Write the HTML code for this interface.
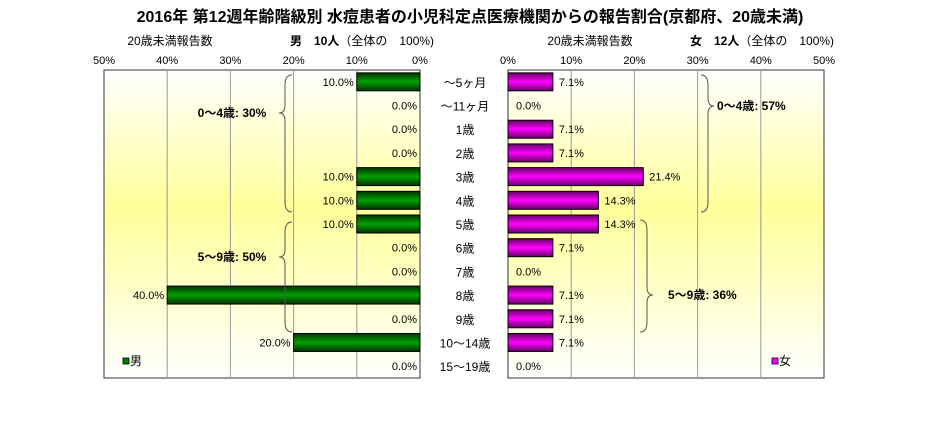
<!DOCTYPE html>
<html><head><meta charset="utf-8"><style>
body{margin:0;background:#fff;}
svg text{font-family:"Liberation Sans","Noto Sans CJK JP",sans-serif;}
</style></head><body>
<svg width="944" height="417" xmlns="http://www.w3.org/2000/svg">
<defs>
<linearGradient id="bg" x1="0" y1="0" x2="0" y2="1">
<stop offset="0" stop-color="#ffffff"/><stop offset="0.45" stop-color="#ffff9a"/><stop offset="1" stop-color="#ffffff"/>
</linearGradient>
<linearGradient id="gm" x1="0" y1="0" x2="0" y2="1">
<stop offset="0" stop-color="#003300"/><stop offset="0.5" stop-color="#00a000"/><stop offset="1" stop-color="#003300"/>
</linearGradient>
<linearGradient id="gf" x1="0" y1="0" x2="0" y2="1">
<stop offset="0" stop-color="#660066"/><stop offset="0.5" stop-color="#ff00ff"/><stop offset="1" stop-color="#660066"/>
</linearGradient>
</defs>
<text x="470" y="22" text-anchor="middle" font-size="16" font-weight="bold">2016年 第12週年齢階級別 水痘患者の小児科定点医療機関からの報告割合(京都府、20歳未満)</text>
<text x="170" y="45" text-anchor="middle" font-size="12">20歳未満報告数</text>
<text x="290" y="45" font-size="12"><tspan font-weight="bold">男　10人</tspan>（全体の　100%)</text>
<text x="590" y="45" text-anchor="middle" font-size="12">20歳未満報告数</text>
<text x="690" y="45" font-size="12"><tspan font-weight="bold">女　12人</tspan>（全体の　100%)</text>
<g id="left"></g>
<g id="right"></g>
<g id="labels"></g>
<g fill="none" stroke="#555" stroke-width="1">
<path d="M292,75 Q285,75 285,85 L285,105 Q285,113 279,113 Q285,113 285,121 L285,202 Q285,212 292,212"/>
<path d="M292,222 Q285,222 285,232 L285,250 Q285,257 279,257 Q285,257 285,264 L285,322 Q285,332 292,332"/>
<path d="M701,75 Q708,75 708,85 L708,98 Q708,106 714,106 Q708,106 708,114 L708,202 Q708,212 701,212"/>
<path d="M640,220 Q647,220 647,230 L647,287 Q647,295 653,295 Q647,295 647,303 L647,322 Q647,332 640,332"/>
</g>
<text x="232" y="117" text-anchor="middle" font-size="12" font-weight="bold">0～4歳: 30%</text>
<text x="232" y="261" text-anchor="middle" font-size="12" font-weight="bold">5～9歳: 50%</text>
<text x="717" y="110" font-size="12" font-weight="bold">0～4歳: 57%</text>
<text x="668" y="299" font-size="12" font-weight="bold">5～9歳: 36%</text>
<rect x="123" y="358" width="6" height="6" fill="#008000" stroke="#000" stroke-width="0.8"/>
<text x="130" y="365" font-size="12">男</text>
<rect x="772" y="358" width="6" height="6" fill="#ff00ff" stroke="#000" stroke-width="0.8"/>
<text x="779" y="365" font-size="12">女</text>
</svg>
<script>
const categories=["～5ヶ月","～11ヶ月","1歳","2歳","3歳","4歳","5歳","6歳","7歳","8歳","9歳","10～14歳","15～19歳"];
const maleValues=[10.0,0,0,0,10.0,10.0,10.0,0,0,40.0,0,20.0,0];
const femaleValues=[7.1,0,7.1,7.1,21.4,14.3,14.3,7.1,0,7.1,7.1,7.1,0];
const tickValues=[0,10,20,30,40,50];
const NS="http://www.w3.org/2000/svg";
const plotTop=70,plotBottom=378,pxPer=6.32;
const lx0=420,rx0=508,maxV=50;
const rowH=(plotBottom-plotTop)/categories.length;
function yC(i){return plotTop+rowH*(i+0.5);}
function xL(v){return lx0-v*pxPer;}
function xR(v){return rx0+v*pxPer;}
function mk(tag,attrs,parent){const e=document.createElementNS(NS,tag);for(const k in attrs)e.setAttribute(k,attrs[k]);parent.appendChild(e);return e;}
const L=document.getElementById('left'),R=document.getElementById('right'),Lb=document.getElementById('labels');
let b=mk('rect',{x:xL(maxV),y:plotTop,width:lx0-xL(maxV),height:plotBottom-plotTop,fill:'url(#bg)',stroke:'#333'},L);


b=mk('rect',{x:rx0,y:plotTop,width:xR(maxV)-rx0,height:plotBottom-plotTop,fill:'url(#bg)',stroke:'#333'},R);


tickValues.forEach(t=>{
  if(t>0&&t<maxV){
    let g=mk('line',{x1:xL(t),x2:xL(t),y1:plotTop,y2:plotBottom,stroke:'#999'},L);
    
    
    g=mk('line',{x1:xR(t),x2:xR(t),y1:plotTop,y2:plotBottom,stroke:'#999'},R);
    
    
  }
  let tx=mk('text',{x:xL(t),y:64,'text-anchor':'middle','font-size':11},L);tx.textContent=t+'%';
  
  
  tx=mk('text',{x:xR(t),y:64,'text-anchor':'middle','font-size':11},R);tx.textContent=t+'%';
  
  
});
categories.forEach((c,i)=>{
  const y=yC(i);
  let t=mk('text',{x:465,y:y+5,'text-anchor':'middle','font-size':12},Lb);t.textContent=c;
  
  
  const mv=maleValues[i];
  if(mv>0){
    let r=mk('rect',{x:xL(mv),y:y-9,width:lx0-xL(mv),height:18,fill:'url(#gm)',stroke:'#000'},L);
    
    
  }
  t=mk('text',{x:xL(mv)-3,y:y+4,'text-anchor':'end','font-size':11},L);t.textContent=mv.toFixed(1)+'%';
  
  
  const fv=femaleValues[i];
  if(fv>0){
    let r=mk('rect',{x:rx0,y:y-9,width:xR(fv)-rx0,height:18,fill:'url(#gf)',stroke:'#000'},R);
    
    
  }
  t=mk('text',{x:fv>0?xR(fv)+6:rx0+8,y:y+4,'font-size':11},R);t.textContent=fv.toFixed(1)+'%';
  
  
});
</script>
</body></html>
